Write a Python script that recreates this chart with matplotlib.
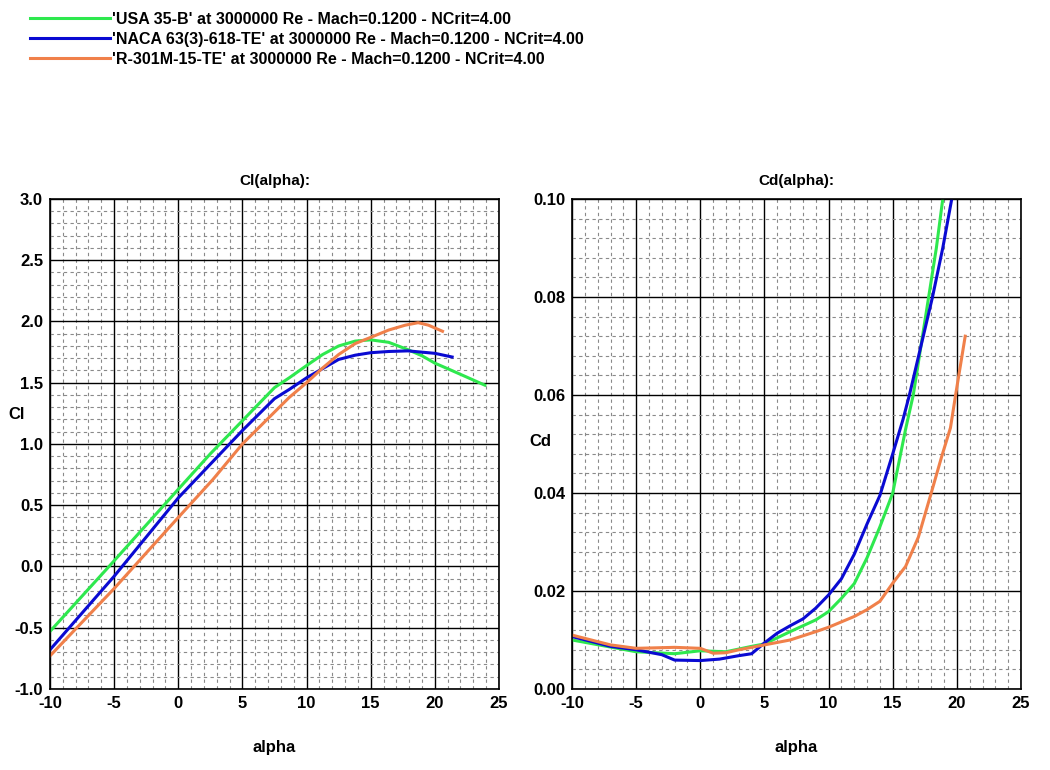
import numpy as np
import matplotlib
matplotlib.use('Agg')
import matplotlib.pyplot as plt
from matplotlib.ticker import MultipleLocator, FormatStrFormatter

# --- данные ---
names = ["'USA 35-B' at 3000000 Re - Mach=0.1200 - NCrit=4.00",
         "'NACA 63(3)-618-TE' at 3000000 Re - Mach=0.1200 - NCrit=4.00",
         "'R-301M-15-TE' at 3000000 Re - Mach=0.1200 - NCrit=4.00"]
colors = ['#2ee84e', '#0a0ad2', '#f0804a']

# Cl(alpha)
usa_cl_a = [-10, -5.4, 0, 2.5, 5, 7.5, 8.65, 10, 11.25, 12.5, 13.8, 15, 16.4, 17.9, 19, 20, 21.1, 22.4, 23.9]
usa_cl = [-0.53, 0.0, 0.63, 0.92, 1.19, 1.46, 1.54, 1.64, 1.73, 1.80, 1.84, 1.85, 1.83, 1.77,
          1.72, 1.66, 1.61, 1.55, 1.48]
naca_cl_a = [-10, -5, 0, 5, 7.5, 8.65, 10, 11.25, 12.5, 13.8, 15, 16.4, 17.9, 20, 21.35]
naca_cl = [-0.68, -0.08, 0.56, 1.11, 1.37, 1.445, 1.54, 1.615, 1.69, 1.725, 1.745, 1.755, 1.76, 1.74, 1.71]
r301_cl_a = [-10, -5, 0, 2.7, 5, 8.65, 10, 11.25, 12.5, 13.8, 15, 16.4, 17.7, 18.7, 19.5, 20.6]
r301_cl = [-0.73, -0.18, 0.40, 0.71, 1.00, 1.38, 1.50, 1.62, 1.73, 1.82, 1.87, 1.93, 1.97, 1.99, 1.97, 1.92]

# Cd(alpha)
usa_cd_a = [-10, -5, -2, 0, 2, 4, 5, 7, 9, 10, 11, 12, 13, 14, 15, 16, 16.6, 17.2, 17.8, 18.4, 18.9]
usa_cd = [0.0100, 0.0076, 0.0072, 0.0078, 0.0076, 0.0087, 0.0092, 0.0117, 0.0141, 0.0158,
          0.0185, 0.0215, 0.0268, 0.0331, 0.0400, 0.053, 0.060, 0.070, 0.080, 0.090, 0.100]
naca_cd_a = [-10, -7, -5, -3, -2, 0, 1.5, 3, 4, 5, 6, 7, 8, 9, 10, 11, 12, 13, 14, 15,
             15.8, 16.3, 17.2, 18.1, 18.9, 19.6]
naca_cd = [0.0107, 0.0087, 0.0080, 0.0070, 0.0059, 0.0058, 0.0061, 0.0068, 0.0072, 0.0094,
           0.0114, 0.0129, 0.0143, 0.0165, 0.0192, 0.0225, 0.0275, 0.0337, 0.0395, 0.048,
           0.055, 0.060, 0.070, 0.080, 0.090, 0.100]
r301_cd_a = [-10, -7, -5, -2, 0, 1, 2, 3, 4, 5, 7, 9, 10, 12, 13, 14, 15, 16, 17, 18,
             18.8, 19.5, 19.9, 20.65]
r301_cd = [0.0110, 0.0090, 0.0083, 0.0085, 0.0083, 0.0073, 0.0074, 0.0080, 0.0085, 0.0090,
           0.0100, 0.0117, 0.0126, 0.0148, 0.0162, 0.0179, 0.0216, 0.0250, 0.0310, 0.0400,
           0.0473, 0.0533, 0.060, 0.072]

cl_data = [(usa_cl_a, usa_cl), (naca_cl_a, naca_cl), (r301_cl_a, r301_cl)]
cd_data = [(usa_cd_a, usa_cd), (naca_cd_a, naca_cd), (r301_cd_a, r301_cd)]

plt.rcParams['font.family'] = ['Liberation Sans', 'DejaVu Sans']
plt.rcParams['font.weight'] = 'bold'
plt.rcParams['font.size'] = 12
plt.rcParams['axes.unicode_minus'] = False

fig = plt.figure(figsize=(10.5, 7.7), dpi=100)
ax1 = fig.add_axes([0.0476, 0.1052, 0.4276, 0.6364])
ax2 = fig.add_axes([0.5448, 0.1052, 0.4276, 0.6364])


def setup(ax, ylim, ymaj, ymin):
    ax.set_xlim(-10, 25)
    ax.set_ylim(*ylim)
    ax.xaxis.set_major_locator(MultipleLocator(5))
    ax.xaxis.set_minor_locator(MultipleLocator(1))
    ax.yaxis.set_major_locator(MultipleLocator(ymaj))
    ax.yaxis.set_minor_locator(MultipleLocator(ymin))
    ax.grid(which='major', color='black', linewidth=1.0)
    ax.grid(which='minor', color='#8a8a8a', linewidth=0.8, linestyle=(0, (3, 3)))
    ax.tick_params(which='both', length=0, labelsize=12, pad=5)
    for s in ax.spines.values():
        s.set_color('black')
        s.set_linewidth(1.2)
    ax.set_axisbelow(True)


setup(ax1, (-1.0, 3.0), 0.5, 0.1)
setup(ax2, (0.0, 0.10), 0.02, 0.004)
ax1.yaxis.set_major_formatter(FormatStrFormatter('%.1f'))
ax2.yaxis.set_major_formatter(FormatStrFormatter('%.2f'))

lines = []
for (a, v), c in zip(cl_data, colors):
    ln, = ax1.plot(a, v, color=c, linewidth=2.2)
    lines.append(ln)
for (a, v), c in zip(cd_data, colors):
    ax2.plot(a, v, color=c, linewidth=2.2)

ax1.set_title('Cl(alpha):', fontsize=11, fontweight='bold', pad=10)
ax2.set_title('Cd(alpha):', fontsize=11, fontweight='bold', pad=10)
ax1.set_xlabel('alpha', fontsize=12, fontweight='bold')
ax2.set_xlabel('alpha', fontsize=12, fontweight='bold')
ax1.xaxis.set_label_coords(0.5, -0.104)
ax2.xaxis.set_label_coords(0.5, -0.104)
ax1.set_ylabel('Cl', fontsize=12, fontweight='bold', rotation=0)
ax2.set_ylabel('Cd', fontsize=12, fontweight='bold', rotation=0)
ax1.yaxis.set_label_coords(-0.075, 0.545)
ax2.yaxis.set_label_coords(-0.071, 0.49)

fig.legend(lines, names, loc='upper left', bbox_to_anchor=(0.015, 1.003),
           frameon=False, handlelength=5.0, handletextpad=0.15, labelspacing=0.3,
           prop={'weight': 'bold', 'size': 11.5})

fig.savefig('out.png', dpi=100)
